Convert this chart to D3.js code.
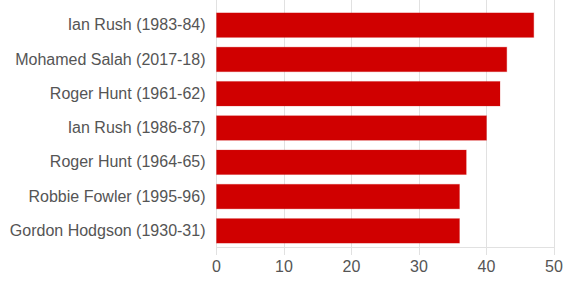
<!DOCTYPE html>
<html>
<head>
<meta charset="utf-8">
<script src="https://cdn.jsdelivr.net/npm/d3@7"></script>
<style>
html,body{margin:0;padding:0;background:#fff;}
svg{display:block;}
</style>
</head>
<body>
<svg id="chart" width="565" height="282"></svg>
<script>
const categories = [
  "Ian Rush (1983-84)",
  "Mohamed Salah (2017-18)",
  "Roger Hunt (1961-62)",
  "Ian Rush (1986-87)",
  "Roger Hunt (1964-65)",
  "Robbie Fowler (1995-96)",
  "Gordon Hodgson (1930-31)"
];
const goals = [47, 43, 42, 40, 37, 36, 36];
const xTicks = [0, 10, 20, 30, 40, 50];

(function () {
const svg = d3.select("#chart");
const mLeft = 216, mRight = 553.5, mTop = 8, mBottom = 248;
const fontFam = "'Liberation Sans', Arial, sans-serif";

const x = d3.scaleLinear().domain([0, 50]).range([mLeft, mRight]);
const y = d3.scaleBand().domain(categories).range([mTop, mBottom])
  .paddingInner(0.285).paddingOuter(0.1425);

// gridlines
svg.append("g").selectAll("line").data(xTicks).join("line")
  .attr("x1", d => Math.round(x(d)) + 0.5).attr("x2", d => Math.round(x(d)) + 0.5)
  .attr("y1", 0).attr("y2", 255)
  .attr("stroke", "#e1e1e1").attr("stroke-width", 1);

// bottom axis line
svg.append("line")
  .attr("x1", mLeft).attr("x2", mRight + 1)
  .attr("y1", mBottom - 0.5).attr("y2", mBottom - 0.5)
  .attr("stroke", "#e1e1e1");

// bars
svg.append("g").selectAll("rect").data(goals).join("rect")
  .attr("x", x(0) + 0.5)
  .attr("y", (d, i) => y(categories[i]))
  .attr("width", d => x(d) - x(0))
  .attr("height", y.bandwidth())
  .attr("fill", "#d00000")
  .attr("stroke", "rgba(208,0,0,0.25)")
  .attr("stroke-width", 1);

// category labels
const yAxis = d3.axisLeft(y).tickSize(0).tickPadding(0);
const gy = svg.append("g").attr("transform", "translate(205.5,0)").call(yAxis);
gy.select(".domain").remove();
gy.selectAll("text").attr("font-family", fontFam).attr("font-size", "16px").attr("fill", "#555");

// x tick labels
const xAxis = d3.axisBottom(x).tickValues(xTicks).tickSize(0).tickPadding(0);
const gx = svg.append("g").attr("transform", "translate(0,261)").call(xAxis);
gx.select(".domain").remove();
gx.selectAll("text").attr("font-family", fontFam).attr("font-size", "16px").attr("fill", "#555");
})();
</script>
</body>
</html>
